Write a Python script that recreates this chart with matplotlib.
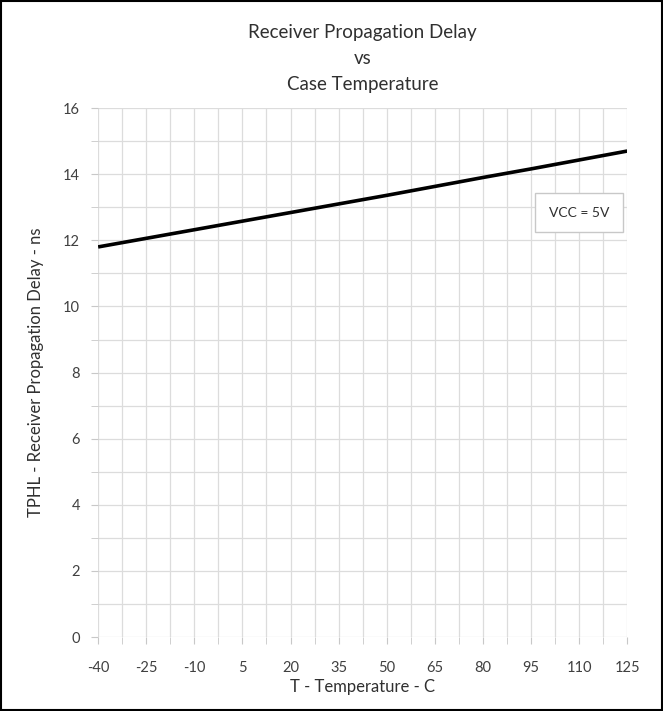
import matplotlib.pyplot as plt
from matplotlib.patches import Rectangle
import numpy as np

# temperature (C) and delay (ns)
temps = [-40, -25, -10, 5, 20, 35, 50, 65, 80, 95, 110, 125]
delay = [11.8, 12.06, 12.32, 12.58, 12.84, 13.1, 13.36, 13.63, 13.9, 14.16, 14.43, 14.7]

xticks = [-40, -25, -10, 5, 20, 35, 50, 65, 80, 95, 110, 125]
yticks = [0, 2, 4, 6, 8, 10, 12, 14, 16]

plt.rcParams['font.family'] = ['Lato', 'DejaVu Sans']
plt.rcParams['axes.unicode_minus'] = False

fig = plt.figure(figsize=(6.63, 7.11), dpi=100)
ax = fig.add_axes([0.148, 0.104, 0.798, 0.744])

ax.plot(temps, delay, color='black', lw=2.6, solid_capstyle='butt')

ax.set_xlim(-40, 125)
ax.set_ylim(0, 16)
ax.set_xticks(xticks)
ax.set_yticks(yticks)
ax.set_xticks(np.arange(-32.5, 125, 15), minor=True)
ax.set_yticks(np.arange(1, 16, 2), minor=True)

ax.grid(True, which='both', color='#dcdcdc', lw=0.9)
ax.set_axisbelow(True)
for s in ax.spines.values():
    s.set_visible(False)
ax.tick_params(which='both', length=5, color='#c8c8c8', labelsize=10.5, labelcolor='#404040')
ax.tick_params(axis='x', pad=12)
ax.tick_params(axis='y', pad=8)

ax.set_xlabel('T - Temperature - C', fontsize=12, color='#303030', labelpad=3)
ax.set_ylabel('TPHL - Receiver Propagation Delay - ns', fontsize=12, color='#303030', labelpad=14)

fig.text(0.5 * (0.148 + 0.946), 0.966, 'Receiver Propagation Delay\nvs\nCase Temperature',
         ha='center', va='top', fontsize=13.5, color='#303030', linespacing=1.65)

ax.text(110, 12.84, 'VCC = 5V', ha='center', va='center', fontsize=10, color='#303030',
        bbox=dict(boxstyle='square,pad=1.0', fc='white', ec='#c8c8c8', lw=1))

fig.patches.append(Rectangle((0.002, 0.002), 0.996, 0.996, transform=fig.transFigure,
                             fill=False, ec='black', lw=1.5))

fig.savefig('out.png', dpi=100)
